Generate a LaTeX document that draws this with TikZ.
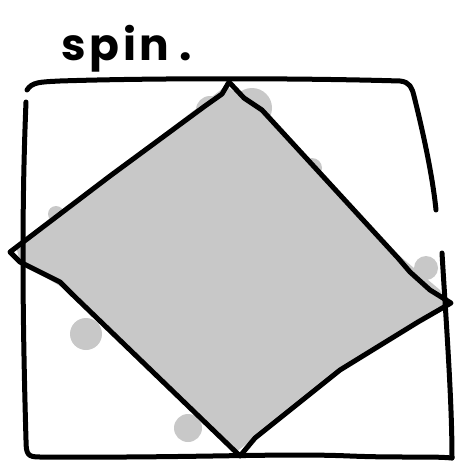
\documentclass[tikz,border=0pt]{standalone}
\usepackage{fontspec}
\newfontfamily\handfont[LetterSpace=8]{Poppins}
\definecolor{greyfill}{HTML}{C8C8C8}
\tikzset{
  ink/.style={line width=5pt, line cap=round, line join=round, black},
  blob/.style={fill=greyfill, draw=none},
}
\begin{document}
\begin{tikzpicture}[x=1pt,y=-1pt]
\useasboundingbox (0,0) rectangle (455,463);
% grey shading under the diamond
\fill[greyfill] (226,86) -- (16,246) -- (20,262) -- (70,292) -- (236,452)
  -- (340,372) -- (446,306) -- (440,290) -- (395,252) -- (262,110) -- cycle;
\fill[blob] (252,108) circle (20);
\fill[blob] (210,110) circle (14);
\fill[blob] (312,168) circle (10);
\fill[blob] (426,268) circle (12);
\fill[blob] (86,334) circle (16);
\fill[blob] (188,428) circle (14);
\fill[blob] (56,214) circle (8);
% outer frame
\coordinate (tl) at (27,90);
\coordinate (trEnd) at (436,210);
\coordinate (rs) at (442,253);
\coordinate (br) at (452,458);
\draw[ink] (tl) .. controls (32,82) and (40,82) .. (60,81)
  .. controls (150,78) and (300,78) .. (400,81)
  .. controls (410,82) and (412,88) .. (414,96)
  .. controls (425,140) and (433,180) .. (trEnd);
\draw[ink] (26,102) .. controls (22,200) and (22,300) .. (26,440)
  .. controls (26,455) and (28,457) .. (40,457)
  .. controls (200,458) and (280,453) .. (350,456)
  .. controls (400,458) and (430,456) .. (br);
\draw[ink] (rs) .. controls (446,320) and (452,400) .. (br);
% diamond
\coordinate (top) at (229,82);
\coordinate (left) at (10,252);
\coordinate (bot) at (240,456);
\coordinate (right) at (451,303);
\draw[ink] (top) -- (222,94) -- (205,106) -- (110,176) -- (left)
  -- (20,262) -- (60,282) -- (72,294) -- (bot)
  -- (255,438) -- (340,370) -- (418,322) -- (right)
  -- (430,290) -- (410,272) -- (398,258) -- (262,110)
  -- (244,98) -- (top);
% title
\node[font=\handfont\bfseries\fontsize{44}{44}\selectfont, anchor=base west] (title) at (58,60) {spin\hspace{10pt}.};
\end{tikzpicture}
\end{document}
